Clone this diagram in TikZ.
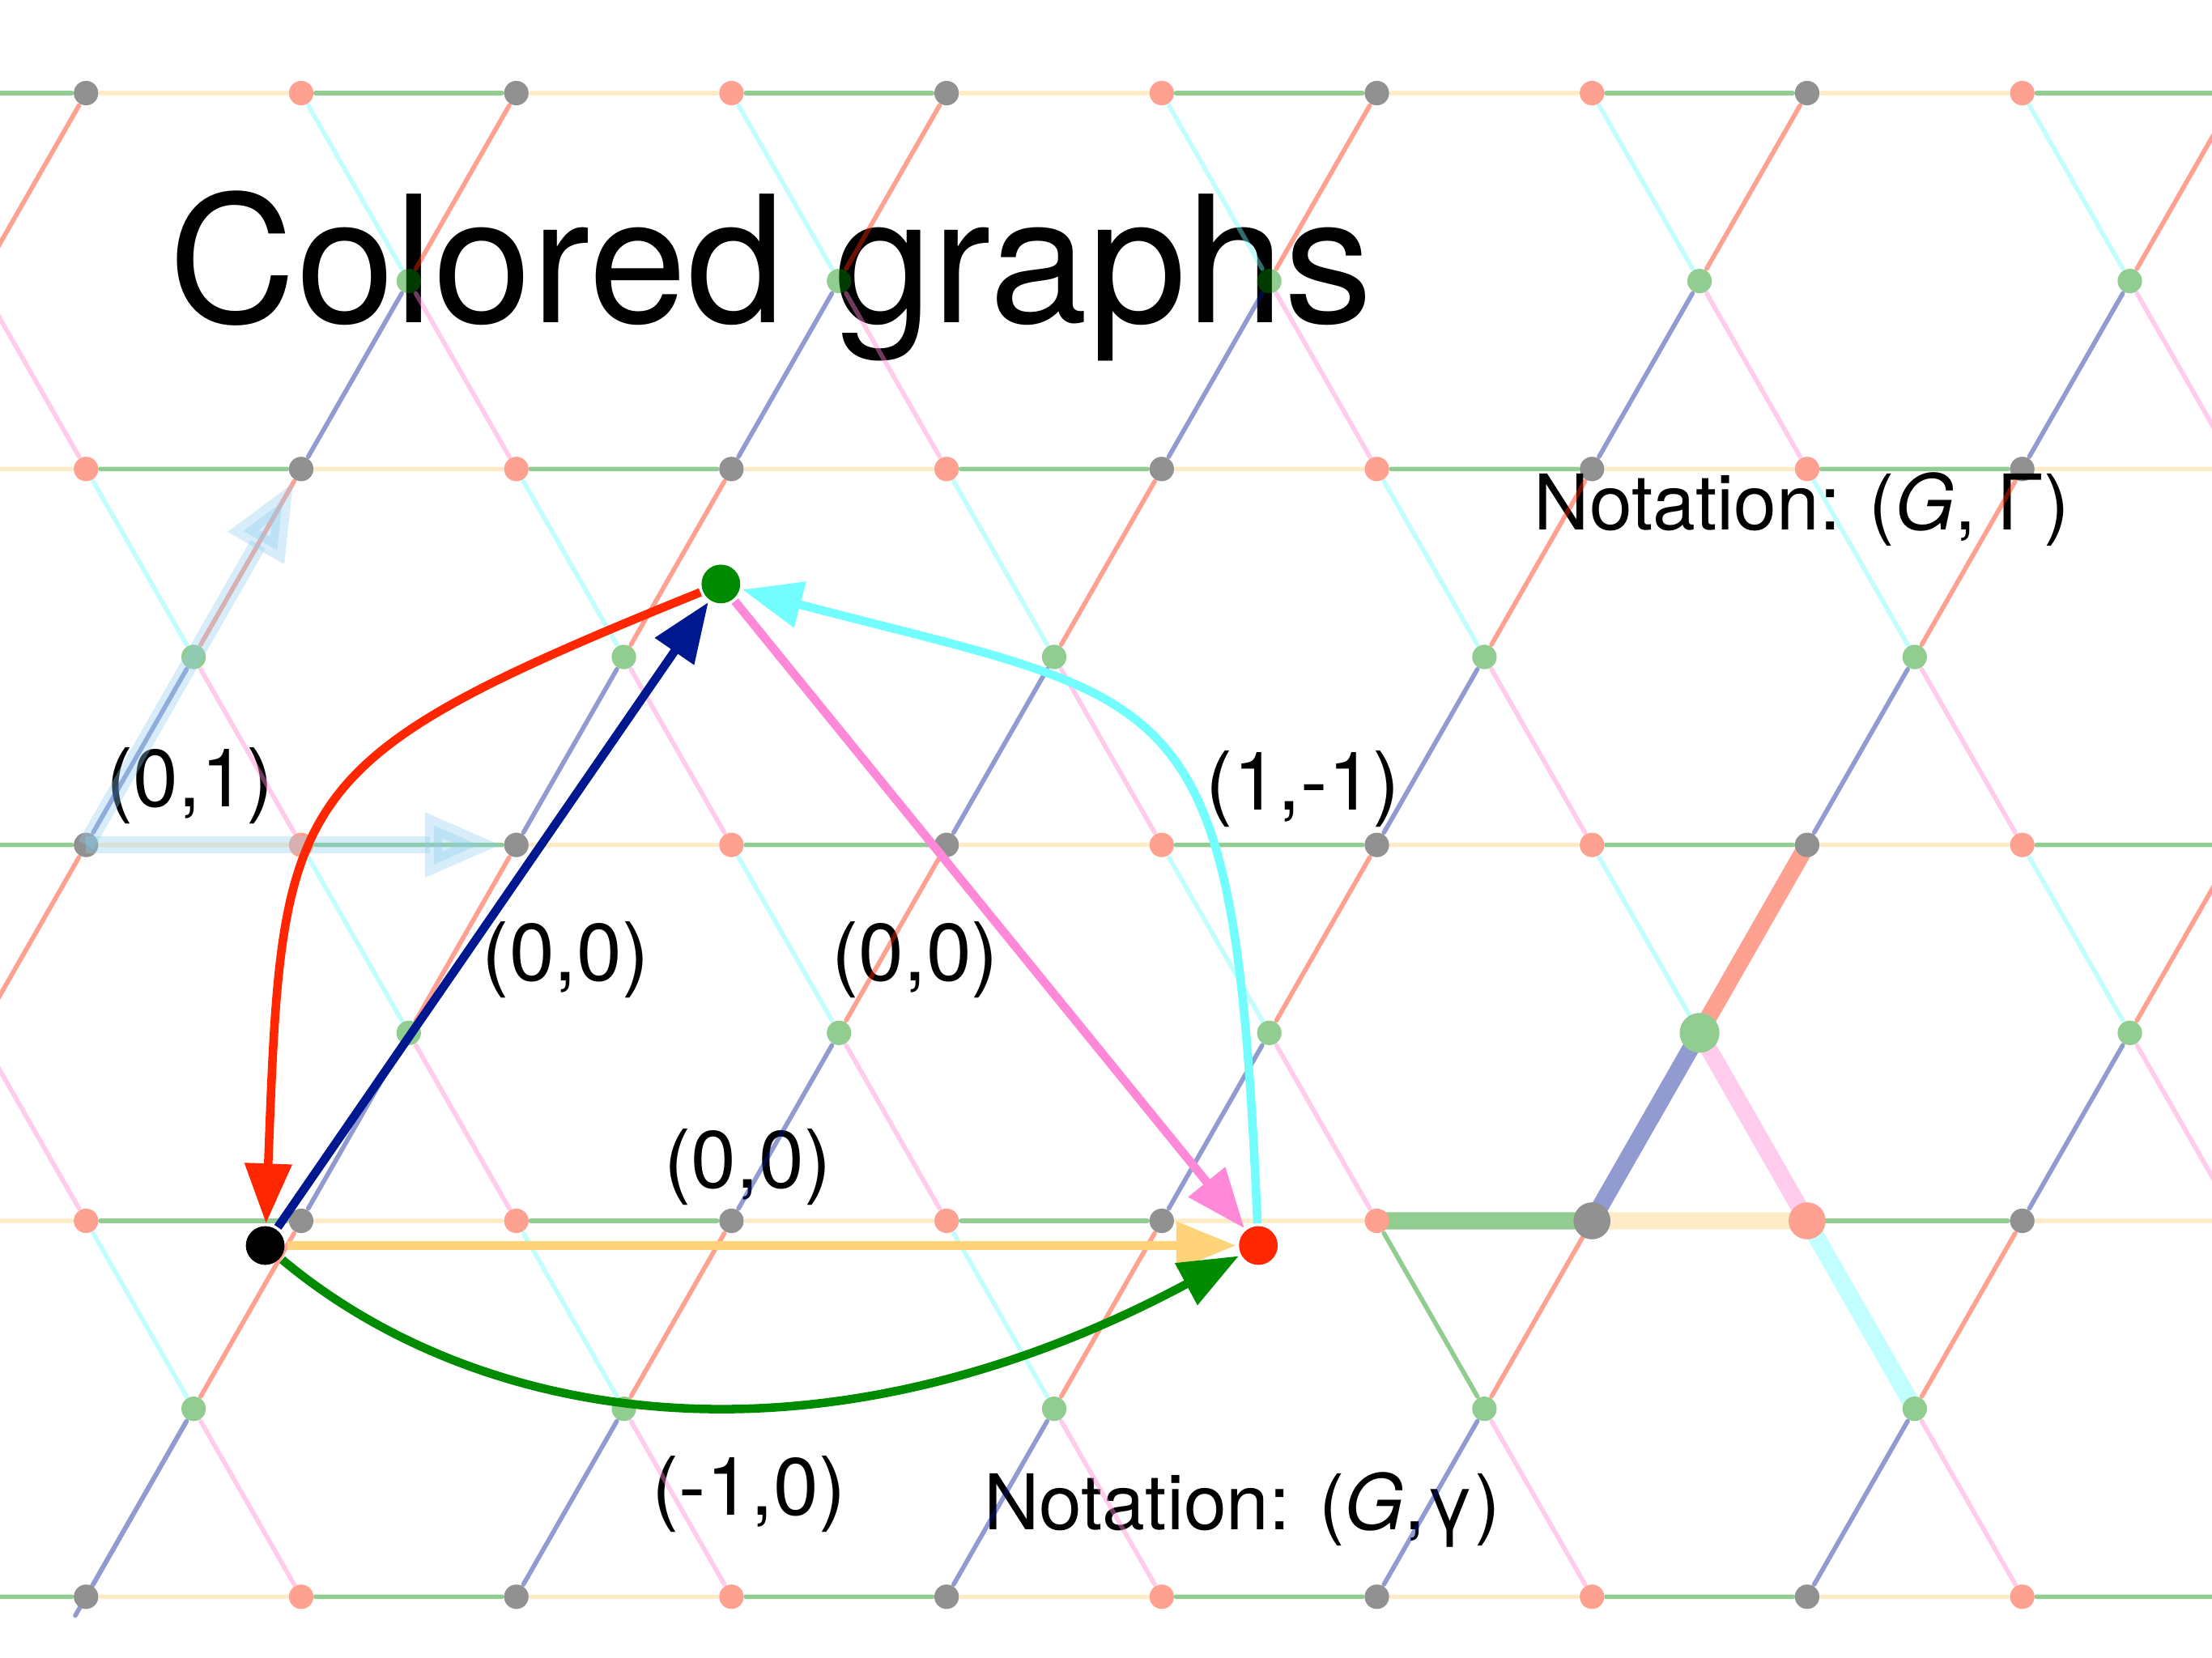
\documentclass[tikz,border=0pt]{standalone}
\usepackage{fontspec}
\setmainfont{TeX Gyre Heros}
\usetikzlibrary{arrows.meta, calc}

\definecolor{cgyellow}{RGB}{255,211,122}
\definecolor{cggreen}{RGB}{0,139,0}
\definecolor{cgred}{RGB}{255,38,0}
\definecolor{cgblue}{RGB}{0,24,143}
\definecolor{cgpink}{RGB}{255,136,216}
\definecolor{cgcyan}{RGB}{115,253,255}
\definecolor{transblue}{RGB}{140,205,240}

\begin{document}
\begin{tikzpicture}[
    x=0.017423cm, y=-0.017423cm,
    vtx/.style={circle, inner sep=0pt, minimum size=13.6pt, outer sep=1pt},
    cedge/.style={line width=3pt, -{Triangle[length=21pt, width=16pt]}},
    latline/.style={line width=1.6pt, line cap=round, shorten <=5pt, shorten >=5pt},
    thickline/.style={line width=6pt, line cap=round, shorten <=3pt, shorten >=3pt},
    transvec/.style={line width=6pt, transblue, opacity=0.35, shorten >=5pt, -{Triangle[length=27pt, width=21pt]}},
    lbl/.style={anchor=base, font=\fontsize{28.5}{30}\selectfont},
    txt/.style={anchor=base west, inner sep=0pt}
]
\useasboundingbox (0,0) rectangle (1568,1175);

% texts lie under the lattice
\node[txt, font=\fontsize{62}{65}\selectfont] (title) at (119.5,229) {Colored graphs};
\node[txt, font=\fontsize{27}{30}\selectfont] (notcover) at (1087,375.4) {Notation: (\textit{G}, Γ)};
\node[txt, font=\fontsize{27}{30}\selectfont] (notbase) at (697,1084.4) {Notation: (\textit{G},γ)};

\node[lbl] (labred) at (134.6,572) {(0,1)};
\node[lbl] (labblue) at (401,695.5) {(0,0)};
\node[lbl] (labpink) at (648.7,695.5) {(0,0)};
\node[lbl] (labcyan) at (923.7,574) {(1,-1)};
\node[lbl] (labyellow) at (530,842) {(0,0)};
\node[lbl] (labgreen) at (531,1074) {(-1,0)};

% lattice points
\foreach \c in {0,...,11}{
  \foreach \r in {0,...,4}{
    \coordinate (v-\c-\r) at (-91.5+152.5*\c, 66+266.5*\r);
    \coordinate (g-\c-\r) at (-15.25+152.5*\c, 199.25+266.5*\r);
  }
}

\begin{scope}[transparency group, opacity=0.43]
\clip (0,0) rectangle (1568,1175);
% rows
\foreach \r in {0,...,4}{
  \foreach \c in {0,...,10}{
    \pgfmathtruncatemacro{\cn}{\c+1}
    \ifodd\numexpr\c+\r\relax \def\hcol{cgyellow}\else \def\hcol{cggreen}\fi
    \draw[latline, \hcol] (v-\c-\r) -- (v-\cn-\r);
  }
}
% crossings
\foreach \r in {0,...,3}{
  \foreach \c in {0,...,10}{
    \ifodd\numexpr\c+\r\relax\else
      \pgfmathtruncatemacro{\cn}{\c+1}
      \pgfmathtruncatemacro{\rn}{\r+1}
      \def\ulcol{cgcyan}
      \ifnum\numexpr10*\c+\r\relax=73 \def\ulcol{cggreen}\fi
      \draw[latline, \ulcol] (g-\c-\r) -- (v-\c-\r);
      \draw[latline, cgred] (g-\c-\r) -- (v-\cn-\r);
      \draw[latline, cgblue] (g-\c-\r) -- (v-\c-\rn);
      \draw[latline, cgpink] (g-\c-\r) -- (v-\cn-\rn);
    \fi
  }
}
% one lift drawn thick
\draw[thickline, cgred] (g-8-2) -- (v-9-2);
\draw[thickline, cgblue] (g-8-2) -- (v-8-3);
\draw[thickline, cgpink] (g-8-2) -- (v-9-3);
\draw[thickline, cggreen] (v-7-3) -- (v-8-3);
\draw[thickline, cgyellow] (v-8-3) -- (v-9-3);
\draw[thickline, cgcyan] (v-9-3) -- (g-9-3);
\draw[latline, cgblue, shorten >=0pt] (g-1-3) -- ($(g-1-3)!1.1!(v-1-4)$);

\foreach \r in {0,...,4}{
  \foreach \c in {1,...,10}{
    \ifodd\numexpr\c+\r\relax \def\dcol{black}\else \def\dcol{cgred}\fi
    \fill[\dcol] (v-\c-\r) circle[radius=4.3pt];
  }
}
\foreach \r in {0,...,3}{
  \foreach \c in {1,...,10}{
    \ifodd\numexpr\c+\r\relax\else \fill[cggreen] (g-\c-\r) circle[radius=4.3pt];\fi
  }
}
\fill[cggreen] (g-8-2) circle[radius=7pt];
\fill[black] (v-8-3) circle[radius=6.5pt];
\fill[cgred] (v-9-3) circle[radius=6.5pt];
\end{scope}

% translations
\draw[transvec] (v-1-2) -- (v-3-2);
\draw[transvec] (v-1-2) -- (v-2-1);

% the colored graph
\node[vtx, fill=black] (blackv) at (188,883) {};
\node[vtx, fill=cggreen] (greenv) at (511,414) {};
\node[vtx, fill=cgred] (redv) at (892,883) {};

\draw[cedge, cgyellow, line width=3.4pt] (blackv) -- (redv);
\draw[cedge, cgblue] (blackv) -- (greenv);
\draw[cedge, cgpink] (greenv) -- (redv);
\draw[cedge, cggreen] (blackv) .. controls (340,1010) and (580,1050) .. (redv);
\draw[cedge, cgred] (greenv) .. controls (200,540) and (200,560) .. (blackv);
\draw[cedge, cgcyan] (redv) .. controls (875,480) and (840,500) .. (greenv);

\end{tikzpicture}
\end{document}
